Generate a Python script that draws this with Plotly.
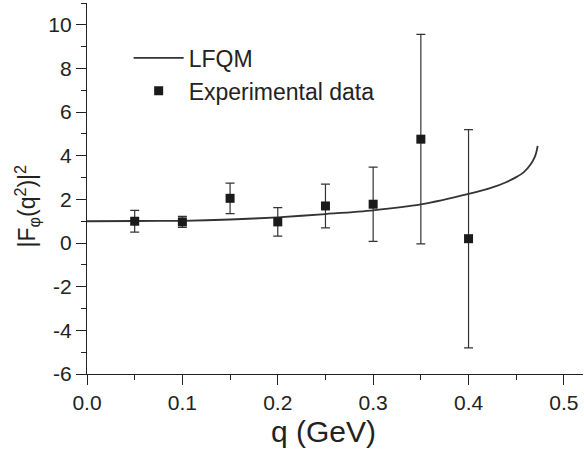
import plotly.graph_objects as go

# LFQM curve
curve_q = [0.0, 0.05, 0.1, 0.15, 0.2, 0.25, 0.3, 0.35, 0.4, 0.425, 0.44, 0.45, 0.458, 0.465, 0.469, 0.471, 0.4725]
curve_f = [1.0, 1.01, 1.02, 1.08, 1.18, 1.33, 1.5, 1.77, 2.25, 2.55, 2.8, 3.02, 3.25, 3.6, 3.9, 4.15, 4.45]

# Experimental data
exp_q = [0.05, 0.1, 0.15, 0.2, 0.25, 0.3, 0.35, 0.4]
exp_f = [1.0, 0.97, 2.05, 0.97, 1.70, 1.78, 4.76, 0.2]
exp_err = [0.5, 0.25, 0.7, 0.65, 1.0, 1.7, 4.8, 5.0]

x_ticks = [0.0, 0.1, 0.2, 0.3, 0.4, 0.5]
y_ticks = [-6, -4, -2, 0, 2, 4, 6, 8, 10]

FONT = "Liberation Sans, Arial, sans-serif"
TXT = "#222222"

fig = go.Figure()
fig.add_trace(go.Scatter(
    x=curve_q, y=curve_f, mode="lines", name="LFQM",
    line=dict(color="#333333", width=1.8, shape="spline", smoothing=0.8),
))
fig.add_trace(go.Scatter(
    x=exp_q, y=exp_f, mode="markers", name="Experimental data",
    marker=dict(symbol="square", size=9, color="#1a1a1a"),
    error_y=dict(type="data", array=exp_err, visible=True, color="#333333", thickness=1.2, width=4.5),
))

axis_common = dict(
    showline=True, linecolor="#222222", linewidth=1.3,
    ticks="outside", ticklen=10, tickwidth=1.3, tickcolor="#222222",
    showgrid=False, zeroline=False, mirror=False, automargin=False,
    tickfont=dict(family=FONT, size=21, color=TXT),
)

fig.update_layout(
    width=584, height=452,
    margin=dict(l=87, r=1, t=3, b=78),
    paper_bgcolor="white", plot_bgcolor="white",
    font=dict(family=FONT, color=TXT),
    xaxis=dict(
        range=[0, 0.52], tickvals=x_ticks, ticktext=[f"{v:.1f}" for v in x_ticks],
        minor=dict(dtick=0.05, tick0=0, ticks="outside", ticklen=5, tickwidth=1.3, tickcolor="#222222"),
        **axis_common,
    ),
    yaxis=dict(
        range=[-6, 11], tickvals=y_ticks, ticktext=[str(v) for v in y_ticks],
        minor=dict(dtick=1, tick0=0, ticks="outside", ticklen=5, tickwidth=1.3, tickcolor="#222222"),
        **axis_common,
    ),
    legend=dict(
        x=0.084, y=0.91, xanchor="left", yanchor="top",
        bgcolor="rgba(0,0,0,0)", font=dict(family=FONT, size=23, color=TXT),
        itemwidth=50, tracegroupgap=0,
    ),
    showlegend=True,
    annotations=[
        dict(
            text="|F<sub>φ</sub>(q<sup>2</sup>)|<sup>2</sup>",
            xref="paper", yref="paper", x=-0.122, y=0.453,
            xanchor="center", yanchor="middle", textangle=-90, showarrow=False,
            font=dict(family=FONT, size=23, color=TXT),
        ),
        dict(
            text="q (GeV)",
            xref="paper", yref="paper", x=0.477, y=-0.156,
            xanchor="center", yanchor="middle", showarrow=False,
            font=dict(family=FONT, size=30, color=TXT),
        ),
    ],
)

fig.write_html("out.html", config={"displayModeBar": False},
               post_script="document.body.style.margin='0';document.body.style.padding='0';")
